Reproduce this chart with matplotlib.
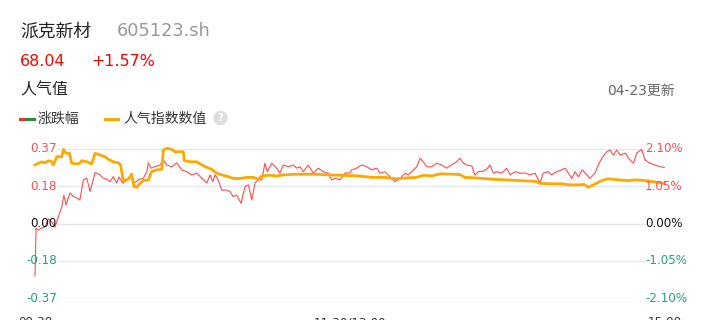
import matplotlib
matplotlib.use("Agg")
import matplotlib.pyplot as plt
from matplotlib.lines import Line2D
from matplotlib.patches import Ellipse
import matplotlib.transforms as mtransforms

plt.rcParams['font.family'] = ['DejaVu Sans', 'Noto Sans CJK SC']

# ---------------- data ----------------
stock_name = "派克新材"
stock_code = "605123.sh"
price = "68.04"
change = "+1.57%"
update_text = "04-23更新"
legend_labels = ["涨跌幅", "人气指数数值"]
section_title = "人气值"

# minutes since 09:30 (trading minutes, 0..240) and % change
chg_t = [0, 0.4, 1.3, 2.6, 3.8, 5.1, 6.4, 7.6, 8.5, 10.2, 11.0, 11.8, 13.3, 14.6, 15.9, 17.1,
         18.4, 19.7, 21.0, 22.9, 24.8, 25.9, 27.3, 28.6, 29.8, 31.1, 32.0, 33.4, 35.5, 36.8,
         37.7, 39.4, 41.3, 42.6, 43.2, 44.1, 45.7, 47.6, 48.9, 50.2, 52.1, 54.0, 55.9, 57.8,
         59.7, 61.6, 63.5, 65.4, 66.7, 67.7, 68.6, 69.8, 71.1, 73.0, 74.3, 75.5, 76.8, 78.5,
         80.0, 81.3, 82.6, 83.8, 85.1, 86.4, 87.6, 88.5, 90.2, 92.1, 93.3, 94.6, 96.5, 98.4,
         99.7, 101.0, 102.2, 104.1, 106.0, 107.9, 109.8, 111.7, 113.0, 114.3, 116.2, 118.1,
         120.0, 120.6, 122.5, 124.5, 126.4, 128.3, 130.2, 131.4, 133.3, 135.2, 137.1, 139.0,
         141.0, 142.2, 143.5, 145.4, 146.7, 147.9, 149.2, 151.1, 153.0, 154.9, 156.8, 158.7,
         160.6, 161.9, 163.2, 164.5, 166.4, 167.6, 168.9, 170.8, 172.1, 173.3, 174.6, 175.9,
         177.8, 179.7, 181.0, 182.9, 184.8, 186.7, 188.6, 190.5, 192.4, 193.6, 195.5, 196.8,
         198.7, 200.6, 201.9, 203.2, 204.5, 205.7, 207.0, 208.5, 210.2, 211.4, 213.3, 214.6,
         215.9, 217.8, 219.0, 220.3, 221.6, 222.9, 224.8, 226.7, 228.0, 229.2, 231.1, 232.4,
         234.3, 236.2, 238.1, 239.7]
chg_pct = [-1.48, -0.13, -0.18, -0.13, -0.10, 0.13, 0.04, -0.10, 0.10, 0.47, 0.80, 0.52, 0.86,
           0.76, 0.72, 0.66, 1.23, 1.28, 0.90, 1.44, 1.37, 1.28, 1.25, 1.18, 1.32, 1.14, 1.31,
           1.14, 1.25, 1.42, 1.14, 1.23, 1.28, 1.46, 1.71, 1.56, 1.60, 1.65, 1.79, 1.65, 1.60,
           1.71, 1.51, 1.46, 1.37, 1.42, 1.28, 1.14, 1.37, 1.18, 1.37, 1.23, 0.94, 0.94, 0.90,
           0.76, 0.80, 0.57, 1.04, 1.09, 0.66, 1.14, 1.23, 1.23, 1.70, 1.46, 1.70, 1.56, 1.42,
           1.65, 1.60, 1.65, 1.56, 1.60, 1.46, 1.65, 1.42, 1.56, 1.46, 1.42, 1.23, 1.27, 1.23,
           1.42, 1.43, 1.51, 1.56, 1.65, 1.60, 1.51, 1.56, 1.42, 1.46, 1.32, 1.18, 1.27, 1.42,
           1.37, 1.46, 1.60, 1.84, 1.74, 1.60, 1.60, 1.70, 1.65, 1.56, 1.65, 1.74, 1.84, 1.70,
           1.65, 1.62, 1.37, 1.46, 1.48, 1.53, 1.65, 1.42, 1.46, 1.42, 1.56, 1.37, 1.46, 1.42,
           1.42, 1.37, 1.42, 1.13, 1.42, 1.46, 1.37, 1.46, 1.51, 1.56, 1.42, 1.27, 1.46, 1.32,
           1.51, 1.37, 1.27, 1.42, 1.65, 1.84, 2.02, 2.07, 1.93, 2.07, 1.93, 1.98, 1.79, 1.70,
           1.98, 2.09, 1.79, 1.70, 1.65, 1.60, 1.58]

# popularity index (drawn on the same scaled axis)
pop_t = [0, 1.3, 2.6, 3.8, 5.1, 6.4, 7.0, 8.3, 10.2, 10.8, 11.8, 13.1, 14.0, 15.9, 17.1, 17.8,
         19.7, 21.6, 22.9, 24.8, 26.7, 27.9, 29.8, 31.7, 32.6, 33.6, 35.5, 36.8, 37.7, 38.7,
         40.0, 41.3, 43.2, 44.4, 46.4, 48.3, 48.9, 50.2, 52.1, 53.3, 56.5, 56.9, 59.0, 61.6,
         62.9, 64.8, 67.3, 69.2, 71.1, 73.6, 75.5, 78.1, 80.6, 83.2, 85.1, 86.4, 89.5, 92.1,
         94.6, 99.7, 106.0, 112.4, 120.0, 123.2, 128.3, 133.3, 137.1, 141.0, 145.4, 147.9,
         151.1, 154.3, 158.7, 161.9, 163.8, 168.9, 174.0, 179.0, 184.1, 190.5, 192.4, 196.8,
         200.6, 203.2, 207.0, 209.3, 210.8, 212.7, 215.9, 218.4, 219.7, 222.2, 226.0, 228.6,
         232.4, 236.2, 239.7]
pop_val = [1.65, 1.70, 1.74, 1.71, 1.77, 1.74, 1.65, 1.88, 1.88, 2.09, 1.98, 1.98, 1.70, 1.68,
           1.70, 1.77, 1.74, 1.68, 1.98, 1.93, 1.88, 1.81, 1.74, 1.71, 1.65, 1.21, 1.25, 1.37,
           1.04, 1.02, 1.13, 1.21, 1.23, 1.46, 1.51, 1.53, 2.07, 2.12, 2.09, 2.02, 2.02, 1.77,
           1.74, 1.74, 1.68, 1.60, 1.53, 1.42, 1.37, 1.32, 1.27, 1.27, 1.30, 1.30, 1.25, 1.34,
           1.36, 1.34, 1.37, 1.39, 1.39, 1.37, 1.35, 1.34, 1.30, 1.30, 1.26, 1.28, 1.30, 1.36,
           1.34, 1.40, 1.39, 1.38, 1.30, 1.28, 1.25, 1.23, 1.21, 1.19, 1.13, 1.12, 1.12, 1.09,
           1.09, 1.10, 1.02, 1.09, 1.21, 1.26, 1.25, 1.23, 1.21, 1.23, 1.21, 1.17, 1.13]

pct_ticks = [2.10, 1.05, 0.00, -1.05, -2.10]
left_labels = ["0.37", "0.18", "0.00", "-0.18", "-0.37"]
right_labels = ["2.10%", "1.05%", "0.00%", "-1.05%", "-2.10%"]
x_ticks = [0, 120, 240]
x_labels = ["09:30", "11:30/13:00", "15:00"]

# ---------------- styles ----------------
W, H = 707, 320
RED = "#ff4d4f"
GREEN = "#26a17b"
ORANGE = "#ffa800"
GRID = "#e3e7f0"

fig = plt.figure(figsize=(W / 100, H / 100), dpi=100)
fig.patch.set_facecolor("white")


def fx(x):
    return x / W


def fy(y):
    return 1 - y / H


ax = fig.add_axes([fx(35), fy(298), fx(665) - fx(35), fy(149) - fy(298)])
ax.set_xlim(0, 240)
ax.set_ylim(-2.10, 2.10)
ax.axis("off")

g0 = (57 - 35) / 630
g1 = (645 - 35) / 630
for v in pct_ticks:
    ax.axhline(v, xmin=g0, xmax=g1, color=GRID, lw=1.0, zorder=0)

ax.plot(chg_t, chg_pct, color=RED, lw=0.8, zorder=2, clip_on=False)
ax.plot(pop_t, pop_val, color=ORANGE, lw=2.0, zorder=3, solid_joinstyle="round",
        clip_on=False)

# tick labels
blend_l = mtransforms.blended_transform_factory(fig.transFigure, ax.transData)
for v, lab in zip(pct_ticks, left_labels):
    c = RED if v > 0 else (GREEN if v < 0 else "#111111")
    ax.text(fx(57), v, lab, transform=blend_l, ha="right", va="center",
            fontsize=8.6, color=c, zorder=5)
for v, lab in zip(pct_ticks, right_labels):
    c = RED if v > 0 else (GREEN if v < 0 else "#111111")
    ax.text(fx(645), v, lab, transform=blend_l, ha="left", va="center",
            fontsize=8.6, color=c, zorder=5)

blend_b = mtransforms.blended_transform_factory(ax.transData, fig.transFigure)
for t, lab in zip(x_ticks, x_labels):
    ax.text(t, fy(316), lab, transform=blend_b, ha="center", va="top",
            fontsize=8.6, color="#333333")

# header texts
fig.text(fx(20), fy(31), stock_name, fontsize=12.8, color="#222222", va="center", ha="left")
fig.text(fx(117), fy(31), stock_code, fontsize=12.8, color="#999999", va="center", ha="left")
fig.text(fx(20), fy(61), price, fontsize=11.4, color="#ff0000", va="center", ha="left")
fig.text(fx(91), fy(61), change, fontsize=11.4, color="#ff0000", va="center", ha="left")
fig.text(fx(20), fy(90), section_title, fontsize=11.5, color="#222222", va="center", ha="left")
fig.text(fx(675), fy(91), update_text, fontsize=10, color="#666666", va="center", ha="right")

# legend
fig.add_artist(Line2D([fx(20), fx(27)], [fy(119), fy(119)], color="#e8392b", lw=2.2,
                      transform=fig.transFigure))
fig.add_artist(Line2D([fx(27), fx(34)], [fy(119), fy(119)], color="#2e8b3a", lw=2.2,
                      transform=fig.transFigure))
fig.text(fx(38), fy(119), legend_labels[0], fontsize=10, color="#333333", va="center", ha="left")
fig.add_artist(Line2D([fx(105), fx(118)], [fy(119), fy(119)], color=ORANGE, lw=2.2,
                      transform=fig.transFigure))
fig.text(fx(123), fy(119), legend_labels[1], fontsize=10, color="#333333", va="center", ha="left")
fig.add_artist(Ellipse((fx(220.5), fy(118)), 13 / W, 13 / H, color="#dddddd",
                       transform=fig.transFigure))
fig.text(fx(220.5), fy(118.3), "?", fontsize=7, color="white", va="center", ha="center",
         fontweight="bold")

fig.savefig("out.png", dpi=100, facecolor="white")
